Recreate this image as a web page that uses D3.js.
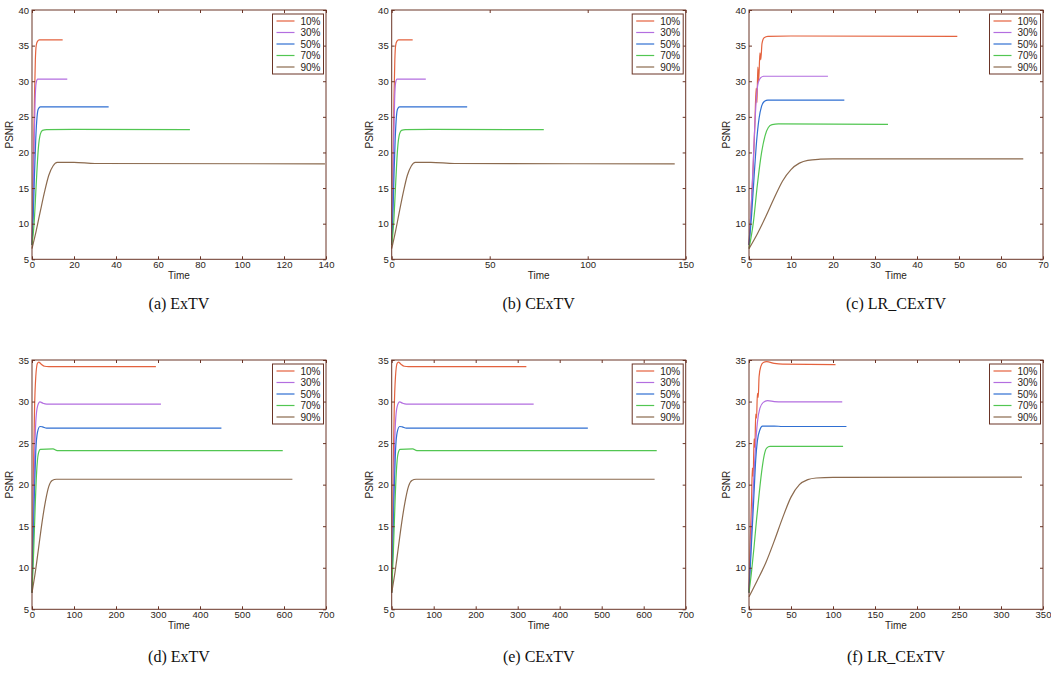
<!DOCTYPE html>
<html>
<head>
<meta charset="utf-8">
<script src="https://d3js.org/d3.v7.min.js"></script>
<style>
  body { margin: 0; background: #fff; }
  .tick text { font-family: "Liberation Sans", Arial, sans-serif; font-size: 9.5px; fill: #2a1d18; }
  .tick line { stroke: #6a3426; }
  .lbl { font-family: "Liberation Sans", Arial, sans-serif; font-size: 10px; fill: #2a1d18; }
  .cap { font-family: "Liberation Serif", "DejaVu Serif", serif; font-size: 16px; fill: #111; }
</style>
</head>
<body>
<svg id="fig" width="1051" height="677"></svg>
<script>
// legend entries + colours
var series = ["10%", "30%", "50%", "70%", "90%"];
var colors = ["#e4623e", "#b36ee0", "#2f6fd2", "#52c652", "#8b6a4e"];

// (a) ExTV, top row
var dataA = [
  [[0,7],[0.4,13],[0.8,21],[1.2,28],[1.6,33],[2,35],[2.6,35.6],[3.5,35.8],[14.6,35.8]],
  [[0,7],[0.5,13],[1,21],[1.5,27.5],[2,29.8],[2.7,30.3],[16.8,30.3]],
  [[0,7],[0.6,11],[1.2,17],[1.8,22],[2.4,25],[3,26.1],[4,26.4],[36.5,26.4]],
  [[0,7],[1,10],[2,15.5],[3,20.5],[4,22.6],[5,23.1],[7,23.2],[20,23.25],[75.2,23.2]],
  [[0,6.5],[2,9],[4,11.8],[6,14.5],[8,16.8],[10,18.1],[12,18.6],[20,18.6],[30,18.45],[139.5,18.4]]
];
// (b) CExTV
var dataB = [
  [[0,7],[0.4,13],[0.8,21],[1.2,28],[1.6,33],[2,35],[2.6,35.6],[3.5,35.8],[10.7,35.8]],
  [[0,7],[0.5,13],[1,21],[1.5,27.5],[2,29.8],[2.7,30.3],[17.4,30.3]],
  [[0,7],[0.6,11],[1.2,17],[1.8,22],[2.4,25],[3,26.1],[4,26.4],[38.5,26.4]],
  [[0,7],[1,10],[2,15.5],[3,20.5],[4,22.6],[5,23.1],[7,23.2],[20,23.25],[77.6,23.2]],
  [[0,6.5],[2,9],[4,11.8],[6,14.5],[8,16.8],[10,18.1],[12,18.6],[20,18.6],[32,18.45],[144.4,18.4]]
];
// (c) LR_CExTV
var dataC = [
  [[0,7],[0.5,12],[1,18],[1.4,24],[1.7,29],[1.9,27],[2.1,32],[2.3,30],[2.6,34],[2.8,33],[3.1,35.3],[3.6,36.1],[4.5,36.3],[10,36.35],[49.6,36.3]],
  [[0,7],[0.5,12],[1,18.5],[1.4,24],[1.8,28],[2.2,29.8],[2.8,30.5],[3.5,30.7],[18.8,30.7]],
  [[0,7],[0.6,11],[1.2,16.5],[1.8,21.5],[2.4,24.8],[3,26.5],[3.7,27.2],[4.5,27.35],[22.7,27.35]],
  [[0,6.5],[1,10],[2,15.5],[3,20],[3.8,22.3],[4.6,23.5],[5.5,23.9],[7,24],[33.1,23.95]],
  [[0,6.5],[2,8.6],[4,11],[6,13.6],[8,16],[10,17.6],[12,18.5],[14,18.9],[17,19.05],[20,19.1],[65.3,19.1]]
];
// (d) ExTV, bottom row
var dataD = [
  [[0,7],[2,15],[4,23],[6,29],[9,33],[13,34.6],[16,34.75],[22,34.5],[30,34.25],[40,34.2],[295,34.2]],
  [[0,7],[3,15],[6,23],[9,27.5],[13,29.4],[19,29.95],[26,29.8],[35,29.7],[307,29.7]],
  [[0,7],[3,13],[6,19.5],[9,24],[13,26.3],[19,27.0],[25,26.95],[35,26.8],[451,26.8]],
  [[0,7],[4,12],[8,18],[11,21.5],[15,23.7],[20,24.25],[50,24.3],[60,24.1],[597,24.1]],
  [[0,7],[8,9.5],[16,12.5],[24,15.5],[32,18],[40,19.8],[48,20.5],[58,20.65],[620,20.65]]
];
// (e) CExTV
var dataE = [
  [[0,7],[2,15],[4,23],[6,29],[9,33],[13,34.6],[16,34.75],[22,34.5],[30,34.25],[40,34.2],[320.6,34.2]],
  [[0,7],[3,15],[6,23],[9,27.5],[13,29.4],[19,29.95],[26,29.8],[35,29.7],[338,29.7]],
  [[0,7],[3,13],[6,19.5],[9,24],[13,26.3],[19,27.0],[25,26.95],[35,26.8],[467,26.8]],
  [[0,7],[4,12],[8,18],[11,21.5],[15,23.7],[20,24.25],[50,24.3],[60,24.1],[631,24.1]],
  [[0,7],[8,9.5],[16,12.5],[24,15.5],[32,18],[40,19.8],[48,20.5],[58,20.65],[626,20.65]]
];
// (f) LR_CExTV
var dataF = [
  [[0,7],[1.5,13],[3,18],[4,22],[5,21],[6,25.5],[7,24.5],[8,28.5],[9,28],[10,31],[11,30.5],[12,33],[14,34.2],[17,34.7],[21,34.8],[30,34.6],[40,34.5],[103,34.45]],
  [[0,7],[2,12],[4,17],[6,21.5],[8,25],[10,27.5],[13,29.2],[17,29.9],[22,30.1],[30,30.0],[40,29.95],[111,29.95]],
  [[0,7],[2,11],[4,15],[6,19],[8,23],[10,25.3],[13,26.6],[16,27.05],[30,27.05],[40,27.0],[116,27.0]],
  [[0,7],[3,9.5],[6,12.5],[9,15.8],[12,18.8],[15,21.5],[18,23.5],[21,24.4],[25,24.6],[112,24.6]],
  [[0,6.5],[10,8.5],[20,10.6],[30,13.2],[40,16],[50,18.5],[60,20.0],[70,20.6],[80,20.8],[100,20.88],[325,20.9]]
];

var xTicksA = [0,20,40,60,80,100,120,140];
var xTicksB = [0,50,100,150];
var xTicksC = [0,10,20,30,40,50,60,70];
var xTicksD = [0,100,200,300,400,500,600,700];
var xTicksF = [0,50,100,150,200,250,300,350];
var yTicksTop = [5,10,15,20,25,30,35,40];
var yTicksBottom = [5,10,15,20,25,30,35];

var captions = ["(a) ExTV", "(b) CExTV", "(c) LR_CExTV", "(d) ExTV", "(e) CExTV", "(f) LR_CExTV"];

var svg = d3.select("#fig");
var frameColor = "#6a3426";
var colLeft = [32, 391.7, 749];
var pw = 294;

var panels = [
  {data: dataA, xt: xTicksA, yt: yTicksTop, col: 0, top: 10, bottom: 259.3, capY: 309},
  {data: dataB, xt: xTicksB, yt: yTicksTop, col: 1, top: 10, bottom: 259.3, capY: 309},
  {data: dataC, xt: xTicksC, yt: yTicksTop, col: 2, top: 10, bottom: 259.3, capY: 309},
  {data: dataD, xt: xTicksD, yt: yTicksBottom, col: 0, top: 360, bottom: 609.3, capY: 662},
  {data: dataE, xt: xTicksD, yt: yTicksBottom, col: 1, top: 360, bottom: 609.3, capY: 662},
  {data: dataF, xt: xTicksF, yt: yTicksBottom, col: 2, top: 360, bottom: 609.3, capY: 662}
];

panels.forEach(function(p, i) {
  var left = colLeft[p.col], right = left + pw;
  var x = d3.scaleLinear().domain([0, p.xt[p.xt.length - 1]]).range([left, right]);
  var y = d3.scaleLinear().domain([5, p.yt[p.yt.length - 1]]).range([p.bottom, p.top]);
  var g = svg.append("g");

  // lines first, frame on top
  var line = d3.line().x(function(d) { return x(d[0]); }).y(function(d) { return y(d[1]); })
    .curve(d3.curveMonotoneX);
  p.data.forEach(function(s, k) {
    g.append("path").attr("d", line(s)).attr("fill", "none")
      .attr("stroke", colors[k]).attr("stroke-width", 1.2);
  });

  // axes, ticks pointing in like matlab
  g.append("g").attr("transform", "translate(0," + p.bottom + ")")
    .call(d3.axisBottom(x).tickValues(p.xt).tickSizeInner(-3).tickSizeOuter(0).tickPadding(2));
  g.append("g").attr("transform", "translate(0," + p.top + ")")
    .call(d3.axisTop(x).tickValues(p.xt).tickSizeInner(-3).tickSizeOuter(0).tickFormat(""));
  g.append("g").attr("transform", "translate(" + left + ",0)")
    .call(d3.axisLeft(y).tickValues(p.yt).tickSizeInner(-3).tickSizeOuter(0).tickPadding(3));
  g.append("g").attr("transform", "translate(" + right + ",0)")
    .call(d3.axisRight(y).tickValues(p.yt).tickSizeInner(-3).tickSizeOuter(0).tickFormat(""));
  g.selectAll(".domain").remove();

  g.append("rect").attr("x", left).attr("y", p.top).attr("width", pw).attr("height", p.bottom - p.top)
    .attr("fill", "none").attr("stroke", frameColor).attr("stroke-width", 1);

  // axis titles
  g.append("text").attr("class", "lbl").attr("x", (left + right) / 2).attr("y", p.bottom + 20)
    .attr("text-anchor", "middle").text("Time");
  g.append("text").attr("class", "lbl")
    .attr("transform", "translate(" + (left - 19) + "," + ((p.top + p.bottom) / 2) + ") rotate(-90)")
    .attr("text-anchor", "middle").text("PSNR");

  // legend box
  var lx = right - 53.5, ly = p.top + 4;
  g.append("rect").attr("x", lx).attr("y", ly).attr("width", 51).attr("height", 60)
    .attr("fill", "#fff").attr("stroke", frameColor).attr("stroke-width", 1);
  series.forEach(function(name, k) {
    var yy = ly + 7 + k * 11.5;
    g.append("line").attr("x1", lx + 4).attr("x2", lx + 22).attr("y1", yy).attr("y2", yy)
      .attr("stroke", colors[k]).attr("stroke-width", 1.2);
    g.append("text").attr("class", "lbl").attr("x", lx + 48).attr("y", yy + 3.5)
      .attr("text-anchor", "end").text(name);
  });

  svg.append("text").attr("class", "cap").attr("x", left + pw / 2).attr("y", p.capY)
    .attr("text-anchor", "middle").text(captions[i]);
});
</script>
</body>
</html>
